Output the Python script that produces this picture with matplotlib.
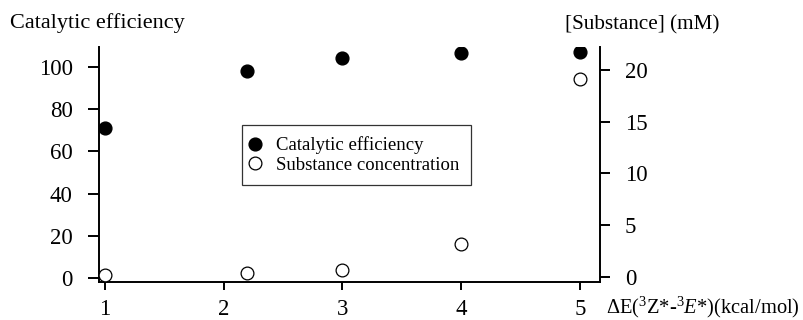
import matplotlib
matplotlib.use("Agg")
import matplotlib.pyplot as plt

plt.rcParams['font.family'] = ['Liberation Serif', 'DejaVu Serif']
plt.rcParams['mathtext.fontset'] = 'custom'
plt.rcParams['mathtext.rm'] = 'Liberation Serif'
plt.rcParams['mathtext.it'] = 'Liberation Serif:italic'

# energy gap (kcal/mol) and the two measured quantities
delta_e = [1, 2.2, 3, 4, 5]
efficiency = [71.2, 98.4, 104.6, 106.6, 107.4]
substance_mM = [0.16, 0.33, 0.65, 3.16, 19.1]

left_ticks = [0, 20, 40, 60, 80, 100]
right_ticks = [0, 5, 10, 15, 20]
x_ticks = [1, 2, 3, 4, 5]

fig = plt.figure(figsize=(8.04, 3.2), dpi=100)
ax = fig.add_axes([0.1231, 0.1197, 0.6232, 0.7333])
ax2 = ax.twinx()

p1, = ax.plot(delta_e, efficiency, 'o', color='black', markersize=9.2,
              label='Catalytic efficiency')
p2, = ax2.plot(delta_e, substance_mM, 'o', markerfacecolor='white',
               markeredgecolor='black', markeredgewidth=0.9, markersize=9.2,
               label='Substance concentration')

ax.set_xlim(0.95, 5.17)
ax.set_ylim(-1.9, 109.6)
ax2.set_ylim(-0.48, 22.2)

ax.set_xticks(x_ticks)
ax.set_yticks(left_ticks)
ax2.set_yticks(right_ticks)

for a in (ax, ax2):
    a.spines['top'].set_visible(False)
    for s in a.spines.values():
        s.set_linewidth(1.4)
ax.spines['right'].set_visible(False)
ax2.spines['left'].set_visible(False)
ax2.spines['bottom'].set_visible(False)

ax.tick_params(axis='y', length=8, width=1.4, pad=11, labelsize=16.5)
ax.tick_params(axis='x', length=6, width=1.4, pad=6.5, labelsize=16.5)
ax2.tick_params(axis='y', length=7, width=1.4, pad=11, labelsize=16.5)

fig.text(10 / 804, 0.9115, 'Catalytic efficiency', fontsize=16, va='baseline')
fig.text(565 / 804, 0.909, '[Substance] (mM)', fontsize=15.2, va='baseline')
fig.text(606 / 804, 0.039,
         r'ΔE($^{3}$Z*-$^{3}$$\it{E}$*)(kcal/mol)', fontsize=14.8, va='center')

leg = fig.legend(handles=[p1, p2], loc='upper left',
                 bbox_to_anchor=(0.3006, 0.609), borderaxespad=0,
                 fancybox=False, edgecolor='black', fontsize=13.5,
                 handlelength=0.19, handletextpad=1.06, labelspacing=0.13,
                 borderpad=0.6)
leg.get_frame().set_linewidth(0.9)

fig.savefig('out.png', dpi=100)
